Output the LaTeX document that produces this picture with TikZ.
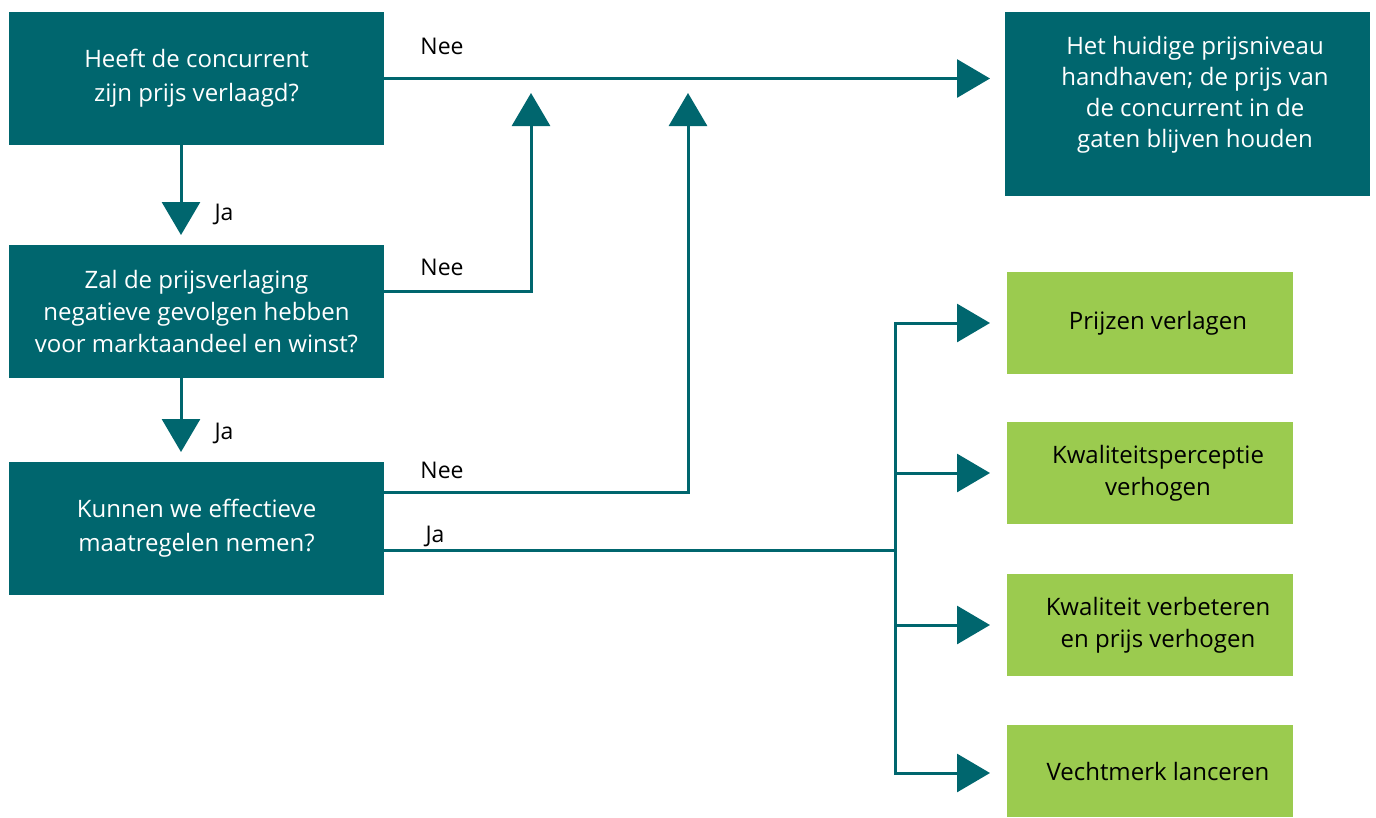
\documentclass[tikz,border=0pt]{standalone}
\usepackage{fontspec}
\setmainfont{Open Sans}
\usetikzlibrary{arrows.meta}
\definecolor{teal}{HTML}{00666E}
\definecolor{lime}{HTML}{9BCB4F}
\tikzset{
  qbox/.style={fill=teal, text=white, minimum width=375pt, minimum height=133pt,
    inner sep=0pt, outer sep=0pt, align=center, font=\fontsize{24}{34}\selectfont},
  abox/.style={fill=lime, text=black, minimum width=286pt, minimum height=102pt,
    inner sep=0pt, outer sep=0pt, align=center, font=\fontsize{24}{32}\selectfont},
  flow/.style={draw=teal, line width=3pt, -{Triangle[length=33pt,width=38pt]}},
  plain/.style={draw=teal, line width=3pt},
  lbl/.style={font=\fontsize{23}{26}\selectfont, inner sep=0pt}
}
\begin{document}
\begin{tikzpicture}[x=1pt,y=-1pt]
\useasboundingbox (0,0) rectangle (1376,817);
% question boxes
\node[qbox] (q1) at (196.5,78.5) {Heeft de concurrent\\zijn prijs verlaagd?};
\node[qbox, font=\fontsize{24}{32}\selectfont] (q2) at (196.5,311.5) {Zal de prijsverlaging\\negatieve gevolgen hebben\\voor marktaandeel en winst?};
\node[qbox] (q3) at (196.5,528.5) {Kunnen we effectieve\\maatregelen nemen?};
% outcome boxes
\node[qbox, minimum width=365pt, minimum height=184pt] (keep) at (1187.5,104) {};
\node[font=\fontsize{24}{31}\selectfont, text=white, align=center] (keeptext) at (1195,95)
  {Het huidige prijsniveau\\handhaven; de prijs van\\de concurrent in de\\gaten blijven houden};
\node[abox] (g1) at (1150,323) {\hspace*{16pt}Prijzen verlagen};
\node[abox] (g2) at (1150,473) {\hspace*{16pt}Kwaliteitsperceptie\\\hspace*{16pt}verhogen};
\node[abox] (g3) at (1150,625) {\hspace*{16pt}Kwaliteit verbeteren\\\hspace*{16pt}en prijs verhogen};
\node[abox, minimum height=92pt] (g4) at (1150,771) {\hspace*{16pt}Vechtmerk lanceren};
% free ends and branch point
\coordinate (up1) at (531,93);
\coordinate (up2) at (688,93);
\coordinate (fork) at (895,550);
% connectors
\draw[flow, shorten >=10pt] ([xshift=-15.5pt]q1.south) -- ([xshift=-15.5pt]q2.north);
\draw[flow, shorten >=10pt] ([xshift=-15.5pt]q2.south) -- ([xshift=-15.5pt]q3.north);
\draw[flow, shorten >=15pt] (q1.east) -- (q1.east -| keep.west);
\draw[flow] ([yshift=20.5pt]q2.east) -| (up1);
\draw[flow] ([yshift=36.5pt]q3.east) -| (up2);
\draw[plain] ([yshift=-21.5pt]q3.east) -- (fork);
\draw[flow, shorten >=17pt] (fork) |- (g1.west);
\draw[flow, shorten >=17pt] (fork) |- (g2.west);
\draw[flow, shorten >=17pt] (fork) |- (g3.west);
\draw[flow, shorten >=17pt] (fork) |- ([yshift=-2pt]g4.west);
% labels
\node[lbl] (n1) at (442,46) {Nee};
\node[lbl] (n2) at (442,267) {Nee};
\node[lbl] (n3) at (442,470) {Nee};
\node[lbl] (y3) at (435,536) {Ja};
\node[lbl] (y1) at (224,214) {Ja};
\node[lbl] (y2) at (224,433) {Ja};
\end{tikzpicture}
\end{document}
